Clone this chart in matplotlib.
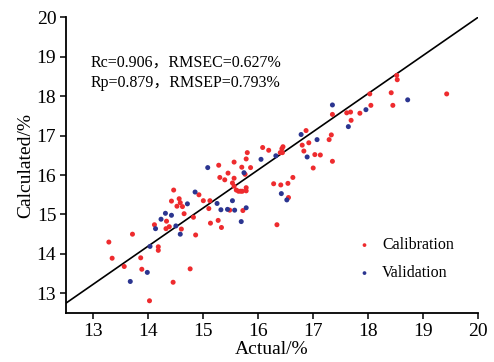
import matplotlib
matplotlib.use("Agg")
import matplotlib.pyplot as plt

# Calibration set (actual, calculated)
cal_actual = [13.28, 13.34, 13.56, 13.71, 13.86, 13.88, 14.02, 14.11, 14.18, 14.18,
              14.33, 14.32, 14.38, 14.42, 14.46, 14.45, 14.52, 14.56, 14.58, 14.60,
              14.62, 14.65, 14.76, 14.82, 14.86, 14.92, 15.00, 15.10, 15.12, 15.13,
              15.27, 15.28, 15.30, 15.33, 15.39, 15.45, 15.48, 15.53, 15.56, 15.56,
              15.56, 15.60, 15.64, 15.68, 15.71, 15.78, 15.70, 15.72, 15.76, 15.78,
              15.78, 15.80, 15.86, 16.08, 16.19, 16.28, 16.34, 16.40, 16.44, 16.45,
              16.43, 16.41, 16.54, 16.55, 16.63, 16.80, 16.83, 16.87, 16.92, 17.00,
              17.03, 17.13, 17.29, 17.33, 17.35, 17.35, 17.61, 17.68, 17.69, 17.85,
              18.03, 18.05, 18.42, 18.45, 18.52, 18.53, 19.43]
cal_calc = [14.30, 13.89, 13.68, 14.50, 13.90, 13.61, 12.81, 14.74, 14.18, 14.09,
            14.83, 14.64, 14.69, 15.34, 15.62, 13.28, 15.21, 15.40, 15.30, 14.63,
            15.20, 15.02, 13.62, 14.93, 14.48, 15.50, 15.35, 15.15, 15.35, 14.78,
            14.85, 16.25, 15.94, 14.67, 15.88, 16.05, 15.11, 15.80, 16.33, 15.92,
            15.72, 15.62, 15.59, 15.59, 15.59, 15.60, 16.20, 15.10, 16.02, 16.41,
            15.68, 16.57, 16.19, 16.70, 16.63, 15.78, 14.74, 16.57, 16.57, 16.72,
            16.67, 15.75, 15.79, 15.43, 15.94, 16.76, 16.61, 17.13, 16.82, 16.18,
            16.52, 16.51, 16.90, 17.02, 16.35, 17.54, 17.58, 17.60, 17.39, 17.57,
            18.06, 17.77, 18.09, 17.77, 18.53, 18.42, 18.06]

# Validation set (actual, calculated)
val_actual = [13.67, 13.98, 14.03, 14.13, 14.23, 14.31, 14.42, 14.50, 14.58, 14.71,
              14.85, 15.08, 15.25, 15.32, 15.44, 15.53, 15.57, 15.69, 15.74, 15.78,
              16.05, 16.32, 16.42, 16.52, 16.78, 16.89, 17.07, 17.35, 17.64, 17.96,
              18.72]
val_calc = [13.30, 13.53, 14.19, 14.64, 14.88, 15.03, 14.98, 14.71, 14.50, 15.27,
            15.57, 16.19, 15.28, 15.12, 15.13, 15.35, 15.11, 14.82, 16.06, 15.17,
            16.40, 16.49, 15.53, 15.37, 17.03, 16.46, 16.90, 17.78, 17.23, 17.66,
            17.91]

# Regression line
fit_slope = 0.967
fit_intercept = 0.663
line_x = [12.5, 20.0]

x_ticks = [13, 14, 15, 16, 17, 18, 19, 20]
y_ticks = [13, 14, 15, 16, 17, 18, 19, 20]
stat_lines = ["Rc=0.906，RMSEC=0.627%", "Rp=0.879，RMSEP=0.793%"]

serif = ["Liberation Serif", "Noto Sans CJK SC", "DejaVu Sans"]
plt.rcParams["font.family"] = serif

fig = plt.figure(figsize=(4.94, 3.62), dpi=100)
ax = fig.add_axes([0.1336, 0.1354, 0.834, 0.8163])

ax.plot(line_x, [fit_slope * v + fit_intercept for v in line_x],
        color="black", lw=1.2, zorder=2)
ax.scatter(cal_actual, cal_calc, s=13, color="#ee2b2e", edgecolors="none",
           label="Calibration", zorder=3)
ax.scatter(val_actual, val_calc, s=13, color="#2b3590", edgecolors="none",
           label="Validation", zorder=3)

ax.set_xlim(12.5, 20)
ax.set_ylim(12.5, 20)
ax.set_xticks(x_ticks)
ax.set_yticks(y_ticks)
ax.tick_params(direction="out", length=4, width=1.1, labelsize=14, pad=3)
for s in ["top", "right"]:
    ax.spines[s].set_visible(False)
for s in ["left", "bottom"]:
    ax.spines[s].set_linewidth(1.3)

ax.set_xlabel("Actual/%", fontsize=14, labelpad=1)
ax.set_ylabel("Calculated/%", fontsize=14, labelpad=2)

ax.text(0.06, 0.846, stat_lines[0], transform=ax.transAxes, fontsize=11.5,
        va="center", ha="left")
ax.text(0.06, 0.778, stat_lines[1], transform=ax.transAxes, fontsize=11.5,
        va="center", ha="left")

leg = ax.legend(loc="upper left", bbox_to_anchor=(0.678, 0.294), frameon=False,
                fontsize=11.5, handletextpad=0.6, labelspacing=0.75,
                markerscale=0.75, handlelength=1.0, borderpad=0.2)

fig.savefig("out.png", dpi=100)
